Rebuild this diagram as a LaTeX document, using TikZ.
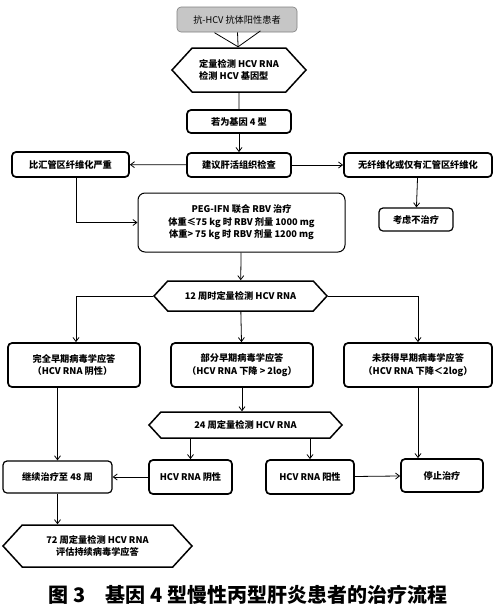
\documentclass[tikz,border=0pt]{standalone}
\usepackage{fontspec}
\setmainfont{Noto Sans CJK SC}
\usetikzlibrary{arrows.meta,shapes.symbols}

\begin{document}
\begin{tikzpicture}
[
	x=1pt,
	y=-1pt,
	stepbox/.style={draw,line width=1.7pt,rounded corners=4pt,inner sep=2pt,align=center,font=\fontsize{9.2}{12.5}\selectfont\bfseries},
	hexbox/.style={draw,line width=1.5pt,signal,signal to=west and east,signal pointer angle=95,inner sep=2pt,align=left,font=\fontsize{9.2}{12.5}\selectfont\bfseries},
	flow/.style={line width=0.8pt,-{Straight Barb[length=4pt,width=6pt]}},
	link/.style={line width=0.8pt}
]

	\useasboundingbox (0,0) rectangle (500,611);

	% patient and first tests
	\node[stepbox,draw=gray,line width=0.6pt,fill=gray!45,font=\fontsize{9.2}{12.5}\selectfont,minimum width=120pt,minimum height=25pt] at (237,19.5) (patient) {抗-HCV 抗体阳性患者};
	\node[hexbox,minimum width=134pt,minimum height=44pt] at (239,70) (firsttest) {定量检测 HCV RNA\\检测 HCV 基因型};
	\node[stepbox,minimum width=104pt,minimum height=23pt] at (239,121.5) (genefour) {若为基因 4 型};
	\node[stepbox,minimum width=104pt,minimum height=24pt] at (239,165) (biopsy) {建议肝活组织检查};
	\node[stepbox,minimum width=117pt,minimum height=25pt] at (70.5,164.5) (severe) {比汇管区纤维化严重};
	\node[stepbox,minimum width=148pt,minimum height=24pt] at (418,165) (nofib) {无纤维化或仅有汇管区纤维化};
	\node[stepbox,line width=1.2pt,minimum width=74pt,minimum height=23pt] at (416,219.5) (notreat) {考虑不治疗};
	\node[stepbox,line width=1pt,rounded corners=7pt,minimum width=207pt,minimum height=59pt] at (241.5,222.5) (therapy) {PEG-IFN 联合 RBV 治疗\\体重≤75 kg 时 RBV 剂量 1000 mg\\体重> 75 kg 时 RBV 剂量 1200 mg};

	% week 12
	\node[hexbox,align=center,minimum width=173pt,minimum height=30pt] at (240.5,296) (weektwelve) {12 周时定量检测 HCV RNA};
	\node[stepbox,align=left,minimum width=132pt,minimum height=44pt] at (74,365) (fullevr) {完全早期病毒学应答\\（HCV RNA 阴性）};
	\node[stepbox,minimum width=142pt,minimum height=44pt] at (242,365) (partevr) {部分早期病毒学应答\\（HCV RNA 下降 > 2log）};
	\node[stepbox,minimum width=148pt,minimum height=44pt] at (418,365) (noevr) {未获得早期病毒学应答\\（HCV RNA 下降＜2log）};

	% week 24 and beyond
	\node[hexbox,align=center,minimum width=193pt,minimum height=26pt] at (245.5,425) (weekfour) {24 周定量检测 HCV RNA};
	\node[stepbox,minimum width=83pt,minimum height=34pt] at (190.5,477) (negative) {HCV RNA 阴性};
	\node[stepbox,minimum width=88pt,minimum height=34pt] at (310,477) (positive) {HCV RNA 阳性};
	\node[stepbox,line width=1.2pt,minimum width=109pt,minimum height=32pt] at (57.5,477) (goon) {继续治疗至 48 周};
	\node[stepbox,minimum width=82pt,minimum height=33pt] at (442,475.5) (halt) {停止治疗};
	\node[hexbox,align=center,minimum width=189pt,minimum height=42pt] at (97.5,546) (weekseven) {72 周定量检测 HCV RNA\\评估持续病毒学应答};

	\node[font=\fontsize{20}{24}\selectfont\bfseries] at (248,595) (caption) {图 3\quad 基因 4 型慢性丙型肝炎患者的治疗流程};

	% connectors
	\draw[line width=0.8pt,-{Straight Barb[length=15pt,width=46pt]}] (patient) -- (firsttest);
	\draw[link] (firsttest) -- (genefour);
	\draw[flow] (genefour) -- (biopsy);
	\draw[flow] (biopsy) -- (severe);
	\draw[flow] (biopsy) -- (nofib);
	\draw[flow] ([xshift=5.5pt]severe.south) |- (therapy.west);
	\draw[flow] (nofib) -- (notreat);
	\draw[flow] (therapy) -- (weektwelve);
	\draw[flow] (weektwelve.west) -| ([xshift=2pt]fullevr.north);
	\draw[flow] (weektwelve) -- (partevr);
	\draw[flow] (weektwelve.east) -| (noevr.north);
	\draw[flow] (goon.north |- fullevr.south) -- (goon);
	\draw[flow] (partevr.south) -- (partevr.south |- weekfour.north);
	\draw[flow] (negative.north |- weekfour.south) -- (negative);
	\draw[flow] (positive.north |- weekfour.south) -- (positive);
	\draw[flow] (noevr.south) -- (noevr.south |- halt.north);
	\draw[flow] (negative) -- (goon);
	\draw[flow] (positive) -- (halt);
	\draw[flow] (goon.south) -- (goon.south |- weekseven.north);

\end{tikzpicture}
\end{document}
